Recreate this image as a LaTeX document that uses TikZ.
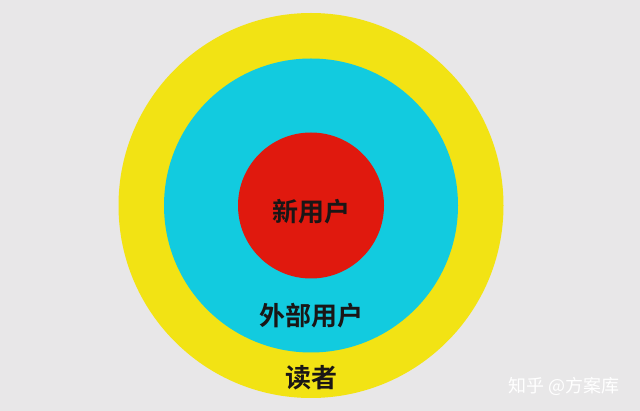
\documentclass[tikz,border=0pt]{standalone}
\usepackage{fontspec}
\newfontfamily\cjk{Noto Sans CJK SC}[BoldFont={Noto Sans CJK SC Bold}]
\definecolor{bgc}{HTML}{E8E7E8}
\definecolor{ylw}{HTML}{F2E314}
\definecolor{cyn}{HTML}{12CBDF}
\definecolor{rd}{HTML}{E0190E}
\definecolor{txt}{HTML}{1A1616}
\tikzset{
  ring/.style={circle, inner sep=0pt, draw=none},
  lbl/.style={font=\cjk\bfseries\fontsize{26}{28}\selectfont, text=txt, inner sep=0pt},
  wm/.style={font=\cjk\fontsize{18}{20}\selectfont, text=white, inner sep=0pt}
}
\begin{document}
\begin{tikzpicture}[x=1pt,y=-1pt]
\fill[bgc] (0,0) rectangle (640,411);
\useasboundingbox (0,0) rectangle (640,411);
\node[ring, fill=ylw, minimum size=385pt] (reader) at (311,205.5) {};
\node[ring, fill=cyn, minimum size=294pt] (outer) at (311,205.5) {};
\node[ring, fill=rd, minimum size=146pt] (new) at (311,205.5) {};
\node[lbl] (newlbl) at (311,212) {新用户};
\node[lbl] (outerlbl) at (311,316) {外部用户};
\node[lbl] (readerlbl) at (311.5,378) {读者};
\node[wm] (mark) at (564,386) {知乎 @方案库};
\end{tikzpicture}
\end{document}
